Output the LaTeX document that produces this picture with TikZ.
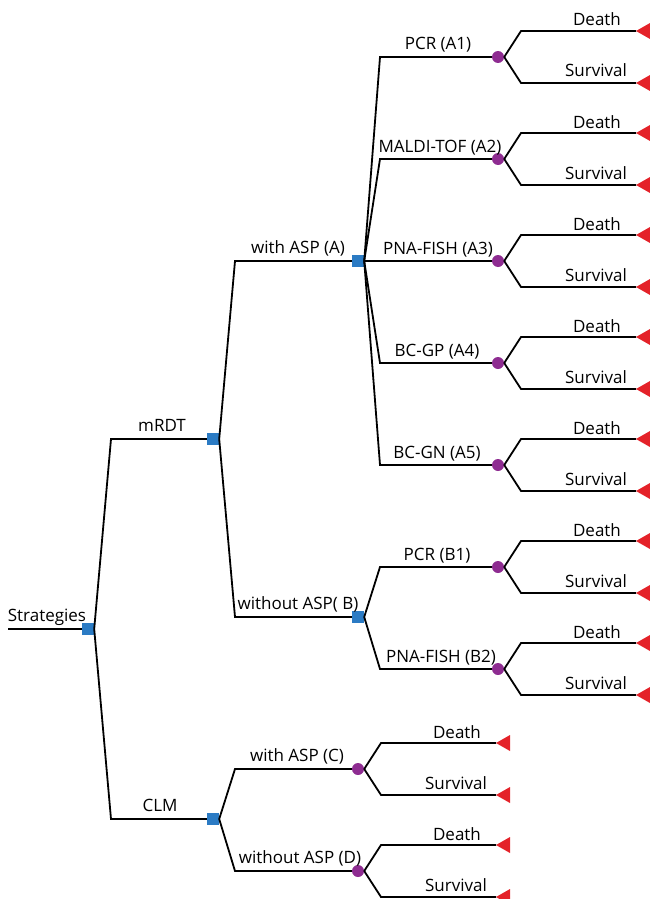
\documentclass[tikz,border=0pt]{standalone}
\usepackage{fontspec}
\setmainfont{Open Sans}
\definecolor{decblue}{HTML}{2B7BC4}
\definecolor{chpurple}{HTML}{8E2C91}
\definecolor{termred}{HTML}{E42229}
\tikzset{
  br/.style={draw=black,line width=1.8pt,line join=miter},
  dec/.style={rectangle,fill=decblue,minimum size=12pt,inner sep=0pt},
  chn/.style={circle,fill=chpurple,minimum size=12pt,inner sep=0pt},
  tri/.style={fill=termred},
  lab/.style={anchor=base,font=\fontsize{17}{20}\selectfont,inner sep=0pt}
}
\begin{document}
\begin{tikzpicture}[x=1pt,y=-1pt]
\useasboundingbox (0,0) rectangle (649,899);
% root
\coordinate (start) at (8,629);
\node[dec] (r) at (88,629) {};
\node[lab] (lr) at (47,621) {Strategies};
\draw[br] (start) -- (r.west);
% level 1
\coordinate (k1) at (111,439);
\coordinate (k2) at (111,819);
\node[dec] (m) at (213,439) {};
\node[dec] (c) at (213,819) {};
\node[lab] (lm) at (162,431) {mRDT};
\node[lab] (lc) at (160,811) {CLM};
\draw[br] (r.east) -- (k1) -- (m.west);
\draw[br] (r.east) -- (k2) -- (c.west);
% level 2
\coordinate (ka) at (235,261);
\coordinate (kb) at (235,617);
\coordinate (kc) at (235,769);
\coordinate (kd) at (235,871);
\node[dec] (A) at (358,261) {};
\node[dec] (B) at (358,617) {};
\node[chn] (C) at (358,769) {};
\node[chn] (D) at (358,871) {};
\node[lab] (lA) at (298,253) {with ASP (A)};
\node[lab] (lB) at (298,609) {without ASP( B)};
\node[lab] (lC) at (297,761) {with ASP (C)};
\node[lab] (lD) at (300,863) {without ASP (D)};
\draw[br] (m.east) -- (ka) -- (A.west);
\draw[br] (m.east) -- (kb) -- (B.west);
\draw[br] (c.east) -- (kc) -- (C.west);
\draw[br] (c.east) -- (kd) -- (D.west);
% level 3 : tests
\foreach \n/\y/\lx/\t in {A1/57/438/PCR (A1), A2/159/440/MALDI-TOF (A2), A3/261/438/PNA-FISH (A3), A4/363/437/BC-GP (A4), A5/465/437/BC-GN (A5)} {
  \coordinate (k\n) at (380,\y);
  \node[chn] (\n) at (498,\y) {};
  \node[lab] (l\n) at (\lx,\y-7) {\t};
  \draw[br] (A.east) -- (k\n) -- (\n.west);
}
\foreach \n/\y/\lx/\t in {B1/567/437/PCR (B1), B2/669/441/PNA-FISH (B2)} {
  \coordinate (k\n) at (380,\y);
  \node[chn] (\n) at (498,\y) {};
  \node[lab] (l\n) at (\lx,\y-7) {\t};
  \draw[br] (B.east) -- (k\n) -- (\n.west);
}
% outcomes
\foreach \n/\cx/\cy/\tx in {A1/498/57/636, A2/498/159/636, A3/498/261/636, A4/498/363/636, A5/498/465/636, B1/498/567/636, B2/498/669/636, C/358/769/496, D/358/871/496} {
  \coordinate (kd\n) at (\cx+23,\cy-26);
  \coordinate (ks\n) at (\cx+23,\cy+26);
  \coordinate (td\n) at (\tx,\cy-26);
  \coordinate (ts\n) at (\tx,\cy+26);
  \draw[br] (\n.east) -- (kd\n) -- (td\n);
  \draw[br] (\n.east) -- (ks\n) -- (ts\n);
  \fill[tri] (td\n) -- ++(14,-8) -- ++(0,16) -- cycle;
  \fill[tri] (ts\n) -- ++(14,-8) -- ++(0,16) -- cycle;
  \node[lab] (ld\n) at (\tx-39,\cy-31) {Death};
  \node[lab] (ls\n) at (\tx-40,\cy+20) {Survival};
}
\end{tikzpicture}
\end{document}
